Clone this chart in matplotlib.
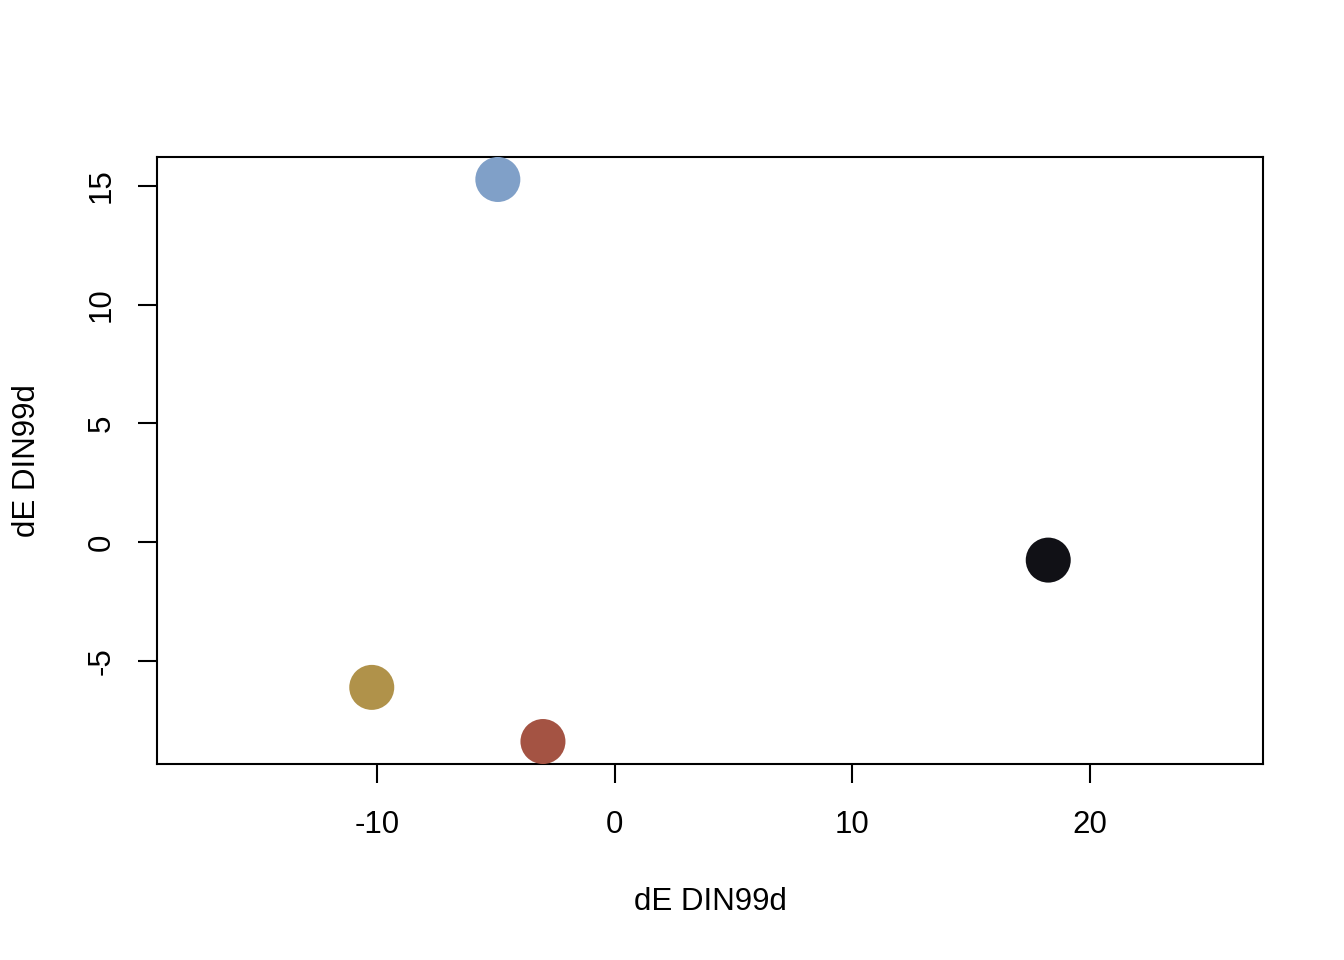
import numpy as np
import matplotlib
matplotlib.use('Agg')
import matplotlib.pyplot as plt

plt.rcParams['font.family'] = ['Liberation Sans', 'DejaVu Sans']
plt.rcParams['axes.unicode_minus'] = False

# points in dE DIN99d space
x = [-4.93, 18.25, -10.24, -3.03]
y = [15.27, -0.76, -6.12, -8.40]
colors = ['#80A0C8', '#111116', '#B0924A', '#A45343']

fig = plt.figure(figsize=(13.44, 9.6), dpi=100)
ax = fig.add_axes([157 / 1344, 1 - 764 / 960, 1106 / 1344, 607 / 960])

ax.scatter(x, y, s=1050, c=colors, edgecolors='none', zorder=3)

# R-style 4% padding on y, then asp=1 widening of x
y0, y1 = min(y), max(y)
pad = 0.04 * (y1 - y0)
ylim = (y0 - pad, y1 + pad)
ax.set_ylim(ylim)
yrange = ylim[1] - ylim[0]
xrange = yrange * 1106 / 607
xc = (min(x) + max(x)) / 2
ax.set_xlim(xc - xrange / 2, xc + xrange / 2)

ax.set_xticks([-10, 0, 10, 20])
ax.set_yticks([-5, 0, 5, 10, 15])
ax.set_yticklabels(['-5', '0', '5', '10', '15'], rotation=90, va='center')
ax.tick_params(direction='out', length=14, width=1.5, labelsize=22.5, pad=19)
ax.tick_params(axis='y', pad=15)
for s in ax.spines.values():
    s.set_linewidth(1.5)

ax.set_xlabel('dE DIN99d', fontsize=22.5, labelpad=34)
ax.set_ylabel('dE DIN99d', fontsize=22.5, labelpad=32)

fig.savefig('out.png', dpi=100)
